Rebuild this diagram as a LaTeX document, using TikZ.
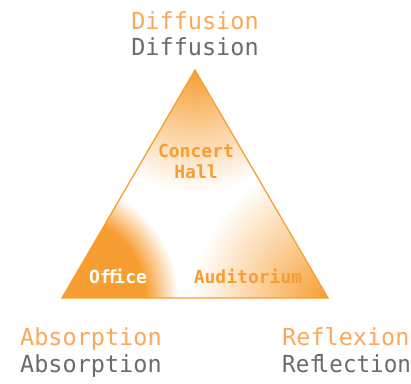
\documentclass[tikz,border=0pt]{standalone}
\usepackage{fontspec}
\setmonofont{DejaVu Sans Mono}
\definecolor{warm}{HTML}{F79E32}
\definecolor{warmtext}{HTML}{FAA95A}
\definecolor{greytext}{HTML}{6B6B6B}
% orange glows that reach white at the rim of their circle
\pgfdeclareradialshading{glow}{\pgfpointorigin}{color(0bp)=(warm); color(25bp)=(white); color(50bp)=(white)}
\pgfdeclareradialshading{core}{\pgfpointorigin}{color(0bp)=(warm); color(18bp)=(warm); color(25bp)=(white); color(50bp)=(white)}
\begin{document}
\begin{tikzpicture}[x=1pt,y=-1pt,
	room/.style={font=\ttfamily\bfseries\fontsize{18}{20}\selectfont,inner sep=0pt,anchor=base},
	quality/.style={font=\ttfamily\fontsize{23.5}{26}\selectfont,inner sep=0pt,anchor=base}]
	\useasboundingbox (0,0) rectangle (411,383);
	\coordinate (apex) at (195,70);
	\coordinate (absorb) at (62,298);
	\coordinate (reflect) at (328,298);
	% shaded corners
	\begin{scope}
		\clip (apex) -- (absorb) -- (reflect) -- cycle;
		\shade[shading=glow] (apex) circle [radius=122pt];
		\shade[shading=core] (absorb) circle [radius=116pt];
		\shade[shading=glow] (reflect) circle [radius=135pt];
	\end{scope}
	\draw[warm,line width=1.3pt,line join=miter] (apex) -- (absorb) -- (reflect) -- cycle;
	% rooms
	\node[room,warm](concert) at (196,157) {Concert};
	\node[room,warm](hall) at (196,178) {Hall};
	\node[room,white](office) at (118,283) {Of\kern-0.2em f\kern-0.2em ice};
	\node[room,warm](auditorium) at (248,283) {Auditorium};
	% corner qualities
	\node[quality,warmtext](diffA) at (195,29.5) {Diffusion};
	\node[quality,greytext](diffB) at (195,55.5) {Diffusion};
	\node[quality,warmtext,anchor=base west](absA) at (20,345) {Absorption};
	\node[quality,greytext,anchor=base west](absB) at (20,372) {Absorption};
	\node[quality,warmtext,anchor=base west](refA) at (282,345) {Reflexion};
	\node[quality,greytext,anchor=base west](refB) at (282,372) {\addfontfeature{FakeStretch=0.96}Ref\kern-0.3em lection};
\end{tikzpicture}
\end{document}
